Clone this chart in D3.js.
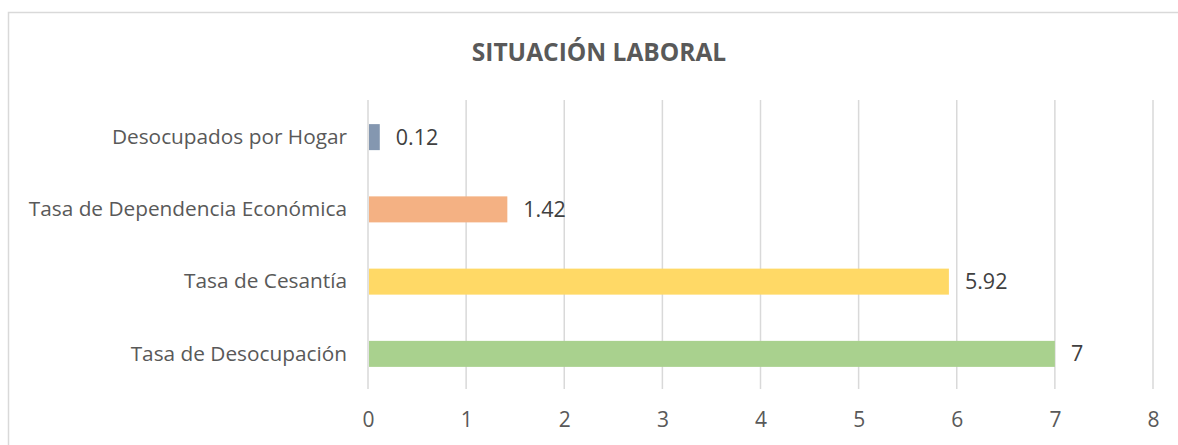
<!DOCTYPE html>
<html><head><meta charset="utf-8">
<script src="https://cdn.jsdelivr.net/npm/d3@7"></script>
<style>html,body{margin:0;padding:0;background:#fff;overflow:hidden}</style>
</head><body>
<svg id="c" width="1178" height="445"></svg>
<script>
const categories = ["Desocupados por Hogar","Tasa de Dependencia Económica","Tasa de Cesantía","Tasa de Desocupación"];
const values = [0.12, 1.42, 5.92, 7];
const colors = ["#8497b0","#f4b183","#ffd966","#a9d18e"];
const xTicks = [0,1,2,3,4,5,6,7,8];
const title = "SITUACIÓN LABORAL";

const svg = d3.select("#c");
const font = "Open Sans, sans-serif";
svg.append("rect").attr("x",8.5).attr("y",12.5).attr("width",1200).attr("height",500)
  .attr("fill","#fff").attr("stroke","#d9d9d9").attr("stroke-width",1.5);

const x = d3.scaleLinear().domain([0,8]).range([368,1153]);
const y = d3.scaleBand().domain(categories).range([101,390]).paddingInner(0.64).paddingOuter(0.32);

svg.append("g").selectAll("line").data(xTicks).join("line")
  .attr("x1",d=>x(d)).attr("x2",d=>x(d)).attr("y1",100).attr("y2",389)
  .attr("stroke","#d9d9d9").attr("stroke-width",1.5);

const xAxis = d3.axisBottom(x).tickValues(xTicks).tickSize(0).tickPadding(0).tickFormat(d3.format("d"));
const gx = svg.append("g").attr("transform","translate(0,420)").call(xAxis);
gx.select(".domain").remove();
gx.selectAll("text").attr("font-family",font).attr("font-size",21).attr("fill","#595959").attr("dy","0.35em");

const yAxis = d3.axisLeft(y).tickSize(0).tickPadding(0);
const gy = svg.append("g").attr("transform","translate(347,0)").call(yAxis);
gy.select(".domain").remove();
gy.selectAll("text").attr("font-family",font).attr("font-size",20.8).attr("fill","#595959");

svg.append("g").selectAll("rect").data(categories).join("rect")
  .attr("x",x(0)+1).attr("y",d=>y(d)).attr("height",y.bandwidth())
  .attr("width",(d,i)=>x(values[i])-x(0)-1).attr("fill",(d,i)=>colors[i]);

svg.append("g").selectAll("text").data(categories).join("text")
  .attr("x",(d,i)=>x(values[i])+16).attr("y",d=>y(d)+y.bandwidth()/2).attr("dy","0.35em")
  .attr("font-family",font).attr("font-size",21.5).attr("fill","#404040")
  .text((d,i)=>String(values[i]));

svg.append("text").attr("x",599).attr("y",52).attr("dy","0.35em").attr("text-anchor","middle")
  .attr("font-family",font).attr("font-weight","bold").attr("font-size",24.5).attr("fill","#595959")
  .text(title);
</script>
</body></html>
